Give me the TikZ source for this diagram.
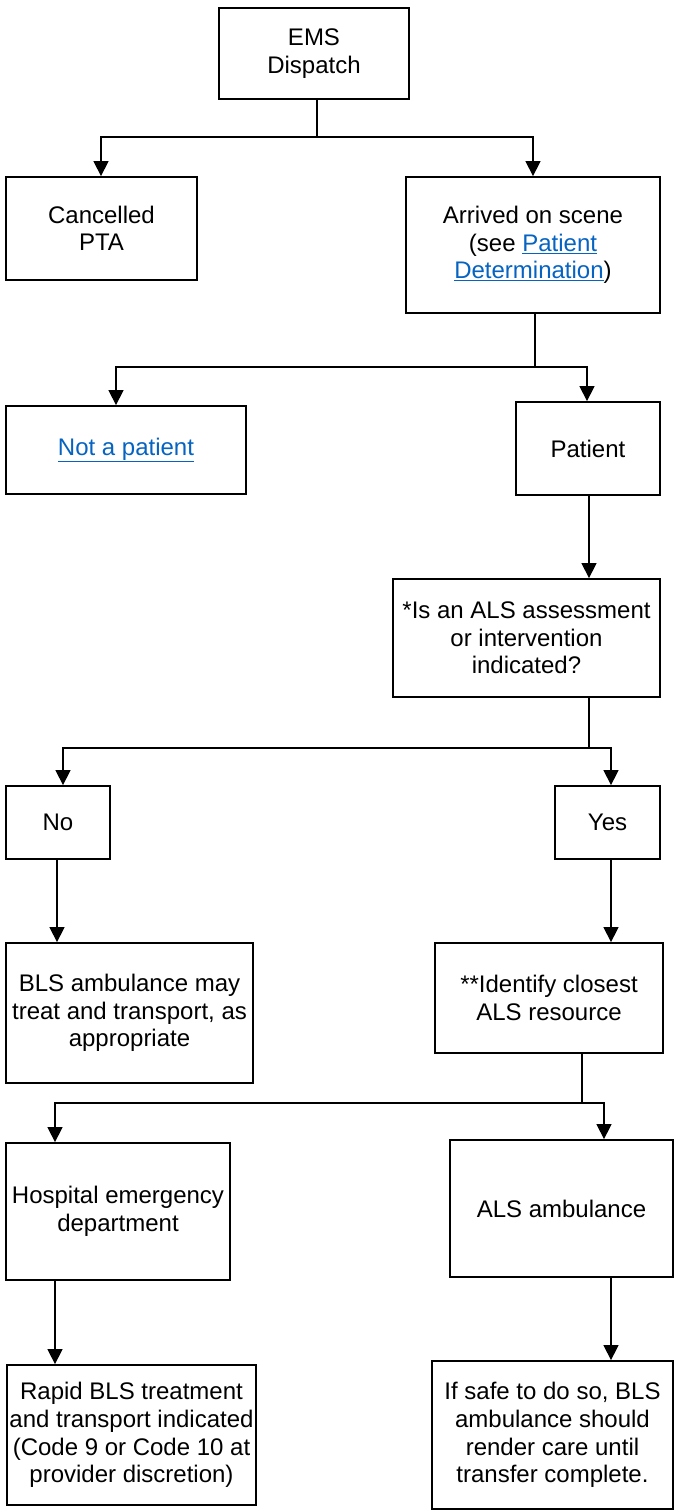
\documentclass[tikz,border=0pt]{standalone}
\usepackage{fontspec}
\setmainfont{Liberation Sans}
\usetikzlibrary{arrows.meta}
\definecolor{linkblue}{HTML}{0563C1}
\newcommand\boxfont{\fontsize{24}{27.6}\selectfont}
\newcommand\lnk[1]{\textcolor{linkblue}{\underline{#1}}}
\tikzset{
  box/.style={draw, line width=1.8pt, align=center, inner sep=0pt, font=\boxfont},
  conn/.style={line width=1.3pt, -{Triangle[length=15pt,width=15pt]}},
  plain/.style={line width=1.3pt}
}
\begin{document}
\begin{tikzpicture}[x=1pt,y=-1pt]
\useasboundingbox (0,0) rectangle (674,1510);
% nodes
\node[box, minimum width=190pt, minimum height=91pt] (ems) at (314,53.5) {EMS\\Dispatch};
\node[box, minimum width=191pt, minimum height=103pt] (cancel) at (101.5,228.5) {Cancelled\\PTA};
\node[box, minimum width=254pt, minimum height=136pt] (arr) at (533,245) {Arrived on scene\\(see \lnk{Patient}\\\lnk{Determination})};
\node[box, minimum width=240pt, minimum height=88pt] (notp) at (126,450) {\lnk{Not a patient}};
\node[box, minimum width=144pt, minimum height=93pt] (pat) at (588,448.5) {Patient};
\node[box, minimum width=267pt, minimum height=118pt] (q) at (526.5,638) {*Is an ALS assessment\\or intervention\\indicated?};
\node[box, minimum width=104pt, minimum height=73pt] (no) at (58,822.5) {No};
\node[box, minimum width=105pt, minimum height=73pt] (yes) at (607.5,822.5) {Yes};
\node[box, minimum width=247pt, minimum height=140pt] (bls) at (129.5,1013) {BLS ambulance may\\treat and transport, as\\appropriate};
\node[box, minimum width=228pt, minimum height=110pt] (ident) at (549,998) {**Identify closest\\ALS resource};
\node[box, minimum width=224pt, minimum height=137pt] (hosp) at (118,1211.5) {Hospital emergency\\department};
\node[box, minimum width=223pt, minimum height=137pt] (alsamb) at (561.5,1208.5) {ALS ambulance};
\node[box, minimum width=249pt, minimum height=140pt] (rapid) at (131.5,1435) {Rapid BLS treatment\\and transport indicated\\(Code 9 or Code 10 at\\provider discretion)};
\node[box, minimum width=241pt, minimum height=148pt] (safe) at (552.5,1435) {If safe to do so, BLS\\ambulance should\\render care until\\transfer complete.};
% junctions
\coordinate (j1) at (317,137);
\coordinate (j2) at (535,367);
\coordinate (j3) at (589,748);
\coordinate (j4) at (582,1103);
% connectors
\draw[plain] (ems.south -| j1) -- (j1);
\draw[conn] (j1) -| (cancel.north -| 101,0);
\draw[conn] (j1) -| (arr.north -| 533,0);
\draw[plain] (arr.south -| j2) -- (j2);
\draw[conn] (j2) -| (notp.north -| 116,0);
\draw[conn] (j2) -| (pat.north -| 587,0);
\draw[conn] (pat.south -| 589,0) -- (q.north -| 589,0);
\draw[plain] (q.south -| j3) -- (j3);
\draw[conn] (j3) -| (no.north -| 63,0);
\draw[conn] (j3) -| (yes.north -| 611,0);
\draw[conn] (no.south -| 57,0) -- (bls.north -| 57,0);
\draw[conn] (yes.south -| 611,0) -- (ident.north -| 611,0);
\draw[plain] (ident.south -| j4) -- (j4);
\draw[conn] (j4) -| (hosp.north -| 55,0);
\draw[conn] (j4) -| (alsamb.north -| 604,0);
\draw[conn] (hosp.south -| 55,0) -- (rapid.north -| 55,0);
\draw[conn] (alsamb.south -| 611,0) -- (safe.north -| 611,0);
\end{tikzpicture}
\end{document}
